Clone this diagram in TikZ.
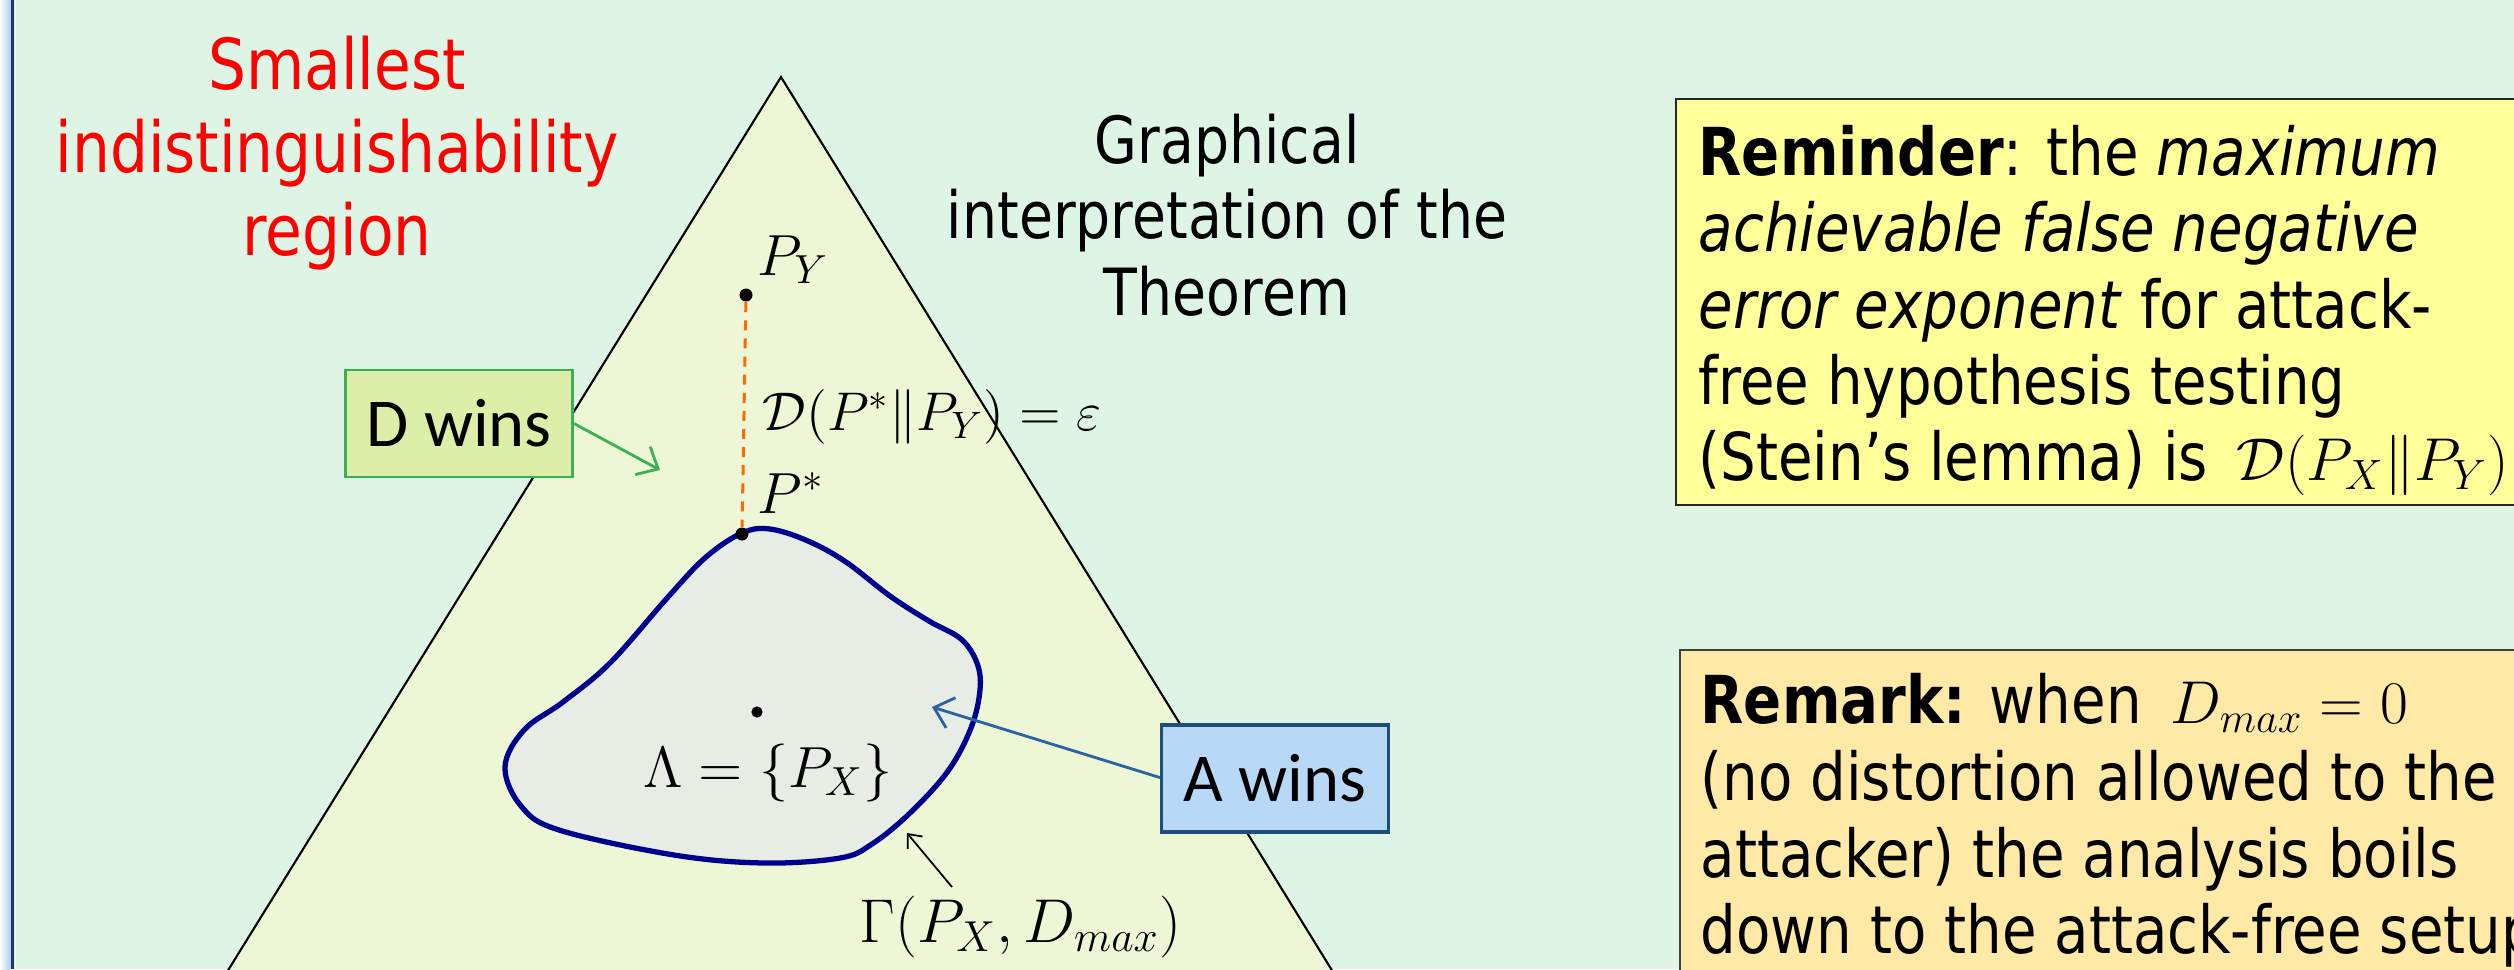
\RequirePackage{fix-cm}
\documentclass[tikz,border=0pt]{standalone}
\usepackage[no-math]{fontspec}
\setmainfont{DejaVu Sans}[FakeStretch=0.85]
\newfontfamily\calibri{Carlito}
\usetikzlibrary{arrows.meta}
\definecolor{bgc}{HTML}{DEF5E6}
\definecolor{trifill}{HTML}{EDF7D6}
\definecolor{blobfill}{HTML}{E7ECE5}
\definecolor{blobline}{HTML}{00008F}
\definecolor{dashor}{HTML}{FF6A00}
\definecolor{dfill}{HTML}{DCEEA8}
\definecolor{dline}{HTML}{3CB054}
\definecolor{afill}{HTML}{B8D8F8}
\definecolor{aline}{HTML}{1F4E79}
\definecolor{aarrow}{HTML}{2A62A4}
\definecolor{remfill}{HTML}{FFFF99}
\definecolor{rmkfill}{HTML}{FFE9A6}
\definecolor{barblue}{HTML}{A9CBF3}
\definecolor{bardark}{HTML}{1B3A66}
\begin{document}
\begin{tikzpicture}[x=0.01cm,y=-0.01cm,
  redtxt/.style={text=red,font=\fontsize{20}{24}\selectfont,anchor=base,inner sep=0pt},
  blktxt/.style={text=black,font=\fontsize{18.5}{22}\selectfont,anchor=base,inner sep=0pt},
  boxtxt/.style={text=black,font=\fontsize{18.8}{22}\selectfont,anchor=base west,inner sep=0pt},
  mathlbl/.style={font=\fontsize{16.5}{20}\selectfont,anchor=base west,inner sep=0pt},
  dot/.style={circle,fill=black,inner sep=0pt,minimum size=3.7pt},
  winbox/.style={rectangle,font=\calibri\fontsize{19.5}{23}\selectfont,minimum width=2.27cm,minimum height=1.07cm,inner sep=0pt},
  barb/.style={-{Straight Barb[length=5pt,width=9pt]}},
  smallbarb/.style={-{Straight Barb[length=3.2pt,width=5.5pt]}}
]
\useasboundingbox (0,0) rectangle (2514,969);
\fill[bgc] (0,0) rectangle (2514,969);
% left bar
\shade[left color=white,right color=barblue] (0,0) rectangle (11,969);
\fill[bardark] (11,0) rectangle (14,969);

% simplex triangle
\filldraw[fill=trifill,draw=black,line width=0.6pt] (227,972) -- (781,77) -- (1333,972);

% red title
\node[redtxt] (r1) at (337,89) {Smallest};
\node[redtxt] (r2) at (337,172) {indistinguishability};
\node[redtxt] (r3) at (337,255) {region};

% black caption
\node[blktxt] (g1) at (1227,163) {Graphical};
\node[blktxt] (g2) at (1227,238) {interpretation of the};
\node[blktxt] (g3) at (1227,315) {Theorem};

% blob Gamma
\filldraw[fill=blobfill,draw=blobline,line width=1.5pt]
  plot[smooth cycle,tension=0.6] coordinates {
   (742,533) (770,529) (808,541) (846,562) (890,596) (929,621) (961,639)
   (977,663) (980,690) (971,728) (948,771) (910,813) (872,844) (840,858)
   (764,863) (674,855) (559,830) (521,806) (505,767) (524,730) (563,702)
   (610,663) (668,597) (706,557)};

% points
\node[dot] (py) at (746,295) {};
\node[dot] (pstar) at (742,534) {};
\node[dot,minimum size=3.2pt] (px) at (757,712) {};
\draw[dashor,dash pattern=on 2.85pt off 2.3pt,line width=0.85pt] (py) -- (pstar);

% math labels
\node[mathlbl] (lpy) at (757,275) {$P_Y$};
\node[mathlbl,font=\fontsize{15.5}{19}\selectfont] (ldiv) at (762,430) {$\mathcal{D}(P^*\|P_Y)=\varepsilon$};
\node[mathlbl] (lps) at (757,513) {$P^*$};
\node[mathlbl,anchor=base] (llam) at (768,787) {$\Lambda=\{P_X\}$};
\node[mathlbl,font=\fontsize{17.6}{21}\selectfont] (lgam) at (859,942) {$\Gamma(P_X,D_{max})$};

% Gamma arrow
\coordinate (gtail) at (952,887);
\coordinate (gtip) at (907,833);
\draw[smallbarb,line width=0.5pt] (gtail) -- (gtip);

% D wins
\node[winbox,fill=dfill,draw=dline,line width=0.8pt] (dw) at (459,423.5) {D wins};
\coordinate (dtip) at (660,470);
\draw[barb,dline,line width=0.8pt] (dw.east) -- (dtip);

% A wins
\coordinate (atip) at (932,707);
\draw[barb,aarrow,line width=0.8pt] (1163,778.5) -- (atip);
\node[winbox,fill=afill,draw=aline,line width=0.9pt] (aw) at (1275,778.5) {A wins};

% Reminder box
\draw[fill=remfill,draw=black!85,line width=0.7pt] (1676,99) rectangle (2540,505);
\node[boxtxt] (m1) at (1698,175) {\textbf{Reminder}: the \textit{maximum}};
\node[boxtxt] (m2) at (1698,251) {\textit{achievable false negative}};
\node[boxtxt] (m3) at (1698,328) {\textit{error exponent} for attack-};
\node[boxtxt] (m4) at (1698,404) {free hypothesis testing};
\node[boxtxt] (m5) at (1698,480) {(Stein’s lemma) is \,{\fontsize{17.2}{20}\selectfont$\mathcal{D}(P_X\|P_Y)$}};

% Remark box
\draw[fill=rmkfill,draw=black!75,line width=0.7pt] (1680,650) rectangle (2540,1000);
\node[boxtxt] (k1) at (1700,723) {\textbf{Remark:} when \,{\fontsize{17.2}{20}\selectfont$D_{max}=0$}};
\node[boxtxt] (k2) at (1700,800) {(no distortion allowed to the};
\node[boxtxt] (k3) at (1700,877) {attacker) the analysis boils};
\node[boxtxt] (k4) at (1700,953) {down to the attack-free setup};
\end{tikzpicture}
\end{document}
